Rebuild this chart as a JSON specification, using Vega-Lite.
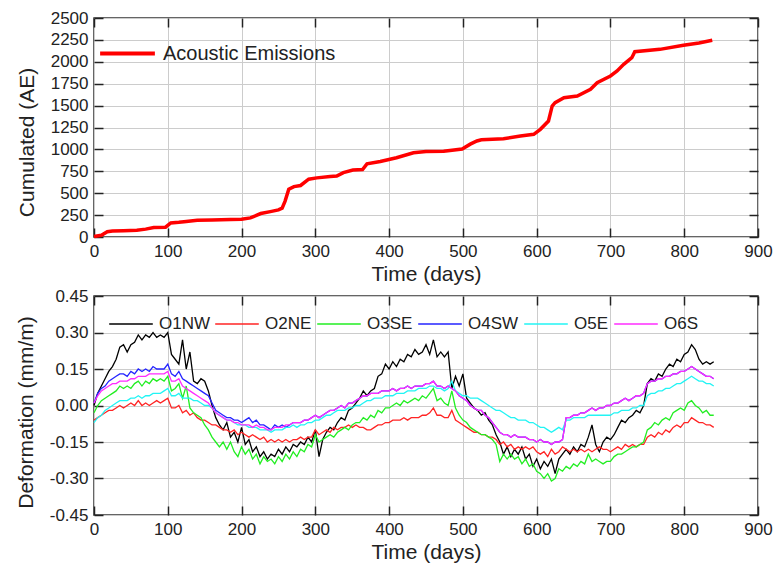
{
  "$schema": "https://vega.github.io/schema/vega-lite/v6.json",
  "padding": {"left": 14, "top": 8, "right": 14, "bottom": 4},
  "spacing": 1,
  "resolve": {"scale": {"color": "independent"}, "legend": {"color": "independent"}},
  "datasets": {
    "ae": [
      {"t": 0, "ae": 5}, {"t": 10, "ae": 20}, {"t": 18, "ae": 60}, {"t": 25, "ae": 68}, {"t": 40, "ae": 72},
      {"t": 58, "ae": 78}, {"t": 70, "ae": 90}, {"t": 81, "ae": 108}, {"t": 97, "ae": 112}, {"t": 104, "ae": 160},
      {"t": 115, "ae": 168}, {"t": 122, "ae": 175}, {"t": 140, "ae": 190}, {"t": 160, "ae": 195}, {"t": 185, "ae": 200},
      {"t": 200, "ae": 202}, {"t": 212, "ae": 218}, {"t": 226, "ae": 268}, {"t": 239, "ae": 290}, {"t": 250, "ae": 310},
      {"t": 255, "ae": 330}, {"t": 259, "ae": 410}, {"t": 264, "ae": 545}, {"t": 271, "ae": 575}, {"t": 280, "ae": 588},
      {"t": 291, "ae": 660}, {"t": 302, "ae": 675}, {"t": 320, "ae": 690}, {"t": 329, "ae": 695}, {"t": 338, "ae": 735},
      {"t": 351, "ae": 765}, {"t": 364, "ae": 770}, {"t": 370, "ae": 835}, {"t": 388, "ae": 862}, {"t": 410, "ae": 905},
      {"t": 433, "ae": 962}, {"t": 450, "ae": 975}, {"t": 474, "ae": 980}, {"t": 499, "ae": 1005}, {"t": 510, "ae": 1060},
      {"t": 519, "ae": 1096}, {"t": 525, "ae": 1110}, {"t": 555, "ae": 1122}, {"t": 578, "ae": 1153}, {"t": 596, "ae": 1172},
      {"t": 605, "ae": 1229}, {"t": 616, "ae": 1324}, {"t": 621, "ae": 1495}, {"t": 625, "ae": 1533}, {"t": 637, "ae": 1590},
      {"t": 655, "ae": 1610}, {"t": 673, "ae": 1686}, {"t": 682, "ae": 1761}, {"t": 700, "ae": 1838}, {"t": 709, "ae": 1895},
      {"t": 718, "ae": 1971}, {"t": 729, "ae": 2047}, {"t": 733, "ae": 2115}, {"t": 767, "ae": 2142}, {"t": 799, "ae": 2188},
      {"t": 820, "ae": 2215}, {"t": 838, "ae": 2245}
    ],
    "def": [
      {"t": 0, "O1NW": 0.00, "O2NE": -0.06, "O3SE": -0.03, "O4SW": 0.01, "O5E": -0.07, "O6S": 0.01},
      {"t": 5, "O1NW": 0.05, "O2NE": -0.05, "O3SE": 0.00, "O4SW": 0.05, "O5E": -0.05, "O6S": 0.04},
      {"t": 10, "O1NW": 0.08, "O2NE": -0.04, "O3SE": 0.02, "O4SW": 0.07, "O5E": -0.04, "O6S": 0.06},
      {"t": 15, "O1NW": 0.11, "O2NE": -0.03, "O3SE": 0.03, "O4SW": 0.08, "O5E": -0.02, "O6S": 0.07},
      {"t": 20, "O1NW": 0.14, "O2NE": -0.02, "O3SE": 0.04, "O4SW": 0.10, "O5E": -0.01, "O6S": 0.08},
      {"t": 25, "O1NW": 0.16, "O2NE": -0.02, "O3SE": 0.05, "O4SW": 0.11, "O5E": 0.00, "O6S": 0.09},
      {"t": 30, "O1NW": 0.19, "O2NE": -0.01, "O3SE": 0.06, "O4SW": 0.12, "O5E": 0.01, "O6S": 0.09},
      {"t": 35, "O1NW": 0.24, "O2NE": 0.00, "O3SE": 0.08, "O4SW": 0.13, "O5E": 0.02, "O6S": 0.10},
      {"t": 40, "O1NW": 0.25, "O2NE": -0.01, "O3SE": 0.07, "O4SW": 0.13, "O5E": 0.02, "O6S": 0.10},
      {"t": 45, "O1NW": 0.22, "O2NE": 0.00, "O3SE": 0.08, "O4SW": 0.12, "O5E": 0.02, "O6S": 0.10},
      {"t": 50, "O1NW": 0.25, "O2NE": 0.01, "O3SE": 0.07, "O4SW": 0.14, "O5E": 0.03, "O6S": 0.11},
      {"t": 55, "O1NW": 0.26, "O2NE": 0.00, "O3SE": 0.09, "O4SW": 0.13, "O5E": 0.03, "O6S": 0.11},
      {"t": 60, "O1NW": 0.29, "O2NE": 0.02, "O3SE": 0.10, "O4SW": 0.15, "O5E": 0.04, "O6S": 0.12},
      {"t": 65, "O1NW": 0.27, "O2NE": 0.00, "O3SE": 0.08, "O4SW": 0.14, "O5E": 0.03, "O6S": 0.12},
      {"t": 70, "O1NW": 0.29, "O2NE": 0.01, "O3SE": 0.10, "O4SW": 0.15, "O5E": 0.04, "O6S": 0.12},
      {"t": 75, "O1NW": 0.28, "O2NE": 0.00, "O3SE": 0.09, "O4SW": 0.14, "O5E": 0.04, "O6S": 0.13},
      {"t": 80, "O1NW": 0.30, "O2NE": 0.01, "O3SE": 0.11, "O4SW": 0.16, "O5E": 0.05, "O6S": 0.13},
      {"t": 85, "O1NW": 0.28, "O2NE": 0.02, "O3SE": 0.10, "O4SW": 0.15, "O5E": 0.05, "O6S": 0.13},
      {"t": 90, "O1NW": 0.29, "O2NE": 0.01, "O3SE": 0.11, "O4SW": 0.15, "O5E": 0.05, "O6S": 0.13},
      {"t": 95, "O1NW": 0.28, "O2NE": 0.02, "O3SE": 0.10, "O4SW": 0.15, "O5E": 0.06, "O6S": 0.13},
      {"t": 100, "O1NW": 0.30, "O2NE": 0.03, "O3SE": 0.12, "O4SW": 0.17, "O5E": 0.07, "O6S": 0.14},
      {"t": 105, "O1NW": 0.21, "O2NE": -0.01, "O3SE": 0.06, "O4SW": 0.13, "O5E": 0.04, "O6S": 0.10},
      {"t": 110, "O1NW": 0.19, "O2NE": -0.01, "O3SE": 0.07, "O4SW": 0.12, "O5E": 0.04, "O6S": 0.10},
      {"t": 115, "O1NW": 0.17, "O2NE": 0.00, "O3SE": 0.09, "O4SW": 0.14, "O5E": 0.05, "O6S": 0.11},
      {"t": 120, "O1NW": 0.27, "O2NE": -0.03, "O3SE": 0.03, "O4SW": 0.11, "O5E": 0.03, "O6S": 0.08},
      {"t": 125, "O1NW": 0.15, "O2NE": -0.02, "O3SE": 0.08, "O4SW": 0.10, "O5E": 0.03, "O6S": 0.07},
      {"t": 130, "O1NW": 0.22, "O2NE": -0.04, "O3SE": -0.01, "O4SW": 0.09, "O5E": 0.03, "O6S": 0.06},
      {"t": 135, "O1NW": 0.10, "O2NE": -0.03, "O3SE": -0.03, "O4SW": 0.08, "O5E": 0.02, "O6S": 0.05},
      {"t": 140, "O1NW": 0.09, "O2NE": -0.05, "O3SE": -0.04, "O4SW": 0.07, "O5E": 0.02, "O6S": 0.04},
      {"t": 145, "O1NW": 0.11, "O2NE": -0.06, "O3SE": -0.05, "O4SW": 0.06, "O5E": 0.01, "O6S": 0.03},
      {"t": 150, "O1NW": 0.10, "O2NE": -0.06, "O3SE": -0.08, "O4SW": 0.05, "O5E": 0.00, "O6S": 0.02},
      {"t": 155, "O1NW": 0.06, "O2NE": -0.07, "O3SE": -0.10, "O4SW": 0.04, "O5E": 0.00, "O6S": 0.01},
      {"t": 160, "O1NW": 0.00, "O2NE": -0.08, "O3SE": -0.13, "O4SW": 0.01, "O5E": -0.01, "O6S": -0.01},
      {"t": 165, "O1NW": -0.05, "O2NE": -0.08, "O3SE": -0.15, "O4SW": -0.02, "O5E": -0.03, "O6S": -0.03},
      {"t": 170, "O1NW": -0.08, "O2NE": -0.09, "O3SE": -0.17, "O4SW": -0.03, "O5E": -0.04, "O6S": -0.04},
      {"t": 175, "O1NW": -0.10, "O2NE": -0.10, "O3SE": -0.15, "O4SW": -0.04, "O5E": -0.05, "O6S": -0.05},
      {"t": 180, "O1NW": -0.07, "O2NE": -0.10, "O3SE": -0.18, "O4SW": -0.05, "O5E": -0.06, "O6S": -0.06},
      {"t": 185, "O1NW": -0.13, "O2NE": -0.11, "O3SE": -0.15, "O4SW": -0.05, "O5E": -0.06, "O6S": -0.06},
      {"t": 190, "O1NW": -0.11, "O2NE": -0.10, "O3SE": -0.19, "O4SW": -0.06, "O5E": -0.07, "O6S": -0.07},
      {"t": 195, "O1NW": -0.15, "O2NE": -0.12, "O3SE": -0.21, "O4SW": -0.06, "O5E": -0.08, "O6S": -0.07},
      {"t": 200, "O1NW": -0.09, "O2NE": -0.11, "O3SE": -0.17, "O4SW": -0.07, "O5E": -0.08, "O6S": -0.08},
      {"t": 205, "O1NW": -0.16, "O2NE": -0.12, "O3SE": -0.20, "O4SW": -0.06, "O5E": -0.08, "O6S": -0.08},
      {"t": 210, "O1NW": -0.14, "O2NE": -0.13, "O3SE": -0.18, "O4SW": -0.05, "O5E": -0.09, "O6S": -0.08},
      {"t": 215, "O1NW": -0.19, "O2NE": -0.12, "O3SE": -0.22, "O4SW": -0.07, "O5E": -0.09, "O6S": -0.09},
      {"t": 220, "O1NW": -0.17, "O2NE": -0.13, "O3SE": -0.20, "O4SW": -0.06, "O5E": -0.09, "O6S": -0.08},
      {"t": 225, "O1NW": -0.21, "O2NE": -0.14, "O3SE": -0.24, "O4SW": -0.08, "O5E": -0.10, "O6S": -0.09},
      {"t": 230, "O1NW": -0.19, "O2NE": -0.13, "O3SE": -0.21, "O4SW": -0.08, "O5E": -0.10, "O6S": -0.09},
      {"t": 235, "O1NW": -0.22, "O2NE": -0.15, "O3SE": -0.23, "O4SW": -0.09, "O5E": -0.10, "O6S": -0.10},
      {"t": 240, "O1NW": -0.20, "O2NE": -0.14, "O3SE": -0.22, "O4SW": -0.10, "O5E": -0.11, "O6S": -0.10},
      {"t": 245, "O1NW": -0.21, "O2NE": -0.15, "O3SE": -0.24, "O4SW": -0.08, "O5E": -0.10, "O6S": -0.09},
      {"t": 250, "O1NW": -0.18, "O2NE": -0.14, "O3SE": -0.21, "O4SW": -0.09, "O5E": -0.10, "O6S": -0.09},
      {"t": 255, "O1NW": -0.20, "O2NE": -0.15, "O3SE": -0.23, "O4SW": -0.08, "O5E": -0.10, "O6S": -0.09},
      {"t": 260, "O1NW": -0.17, "O2NE": -0.14, "O3SE": -0.20, "O4SW": -0.09, "O5E": -0.09, "O6S": -0.08},
      {"t": 265, "O1NW": -0.19, "O2NE": -0.15, "O3SE": -0.22, "O4SW": -0.08, "O5E": -0.09, "O6S": -0.08},
      {"t": 270, "O1NW": -0.16, "O2NE": -0.14, "O3SE": -0.19, "O4SW": -0.07, "O5E": -0.08, "O6S": -0.07},
      {"t": 275, "O1NW": -0.17, "O2NE": -0.14, "O3SE": -0.21, "O4SW": -0.07, "O5E": -0.09, "O6S": -0.07},
      {"t": 280, "O1NW": -0.15, "O2NE": -0.13, "O3SE": -0.18, "O4SW": -0.07, "O5E": -0.08, "O6S": -0.07},
      {"t": 285, "O1NW": -0.16, "O2NE": -0.14, "O3SE": -0.19, "O4SW": -0.06, "O5E": -0.08, "O6S": -0.06},
      {"t": 290, "O1NW": -0.13, "O2NE": -0.13, "O3SE": -0.16, "O4SW": -0.06, "O5E": -0.07, "O6S": -0.06},
      {"t": 295, "O1NW": -0.15, "O2NE": -0.13, "O3SE": -0.17, "O4SW": -0.05, "O5E": -0.07, "O6S": -0.05},
      {"t": 300, "O1NW": -0.10, "O2NE": -0.10, "O3SE": -0.12, "O4SW": -0.04, "O5E": -0.06, "O6S": -0.04},
      {"t": 305, "O1NW": -0.21, "O2NE": -0.12, "O3SE": -0.15, "O4SW": -0.05, "O5E": -0.06, "O6S": -0.05},
      {"t": 310, "O1NW": -0.14, "O2NE": -0.11, "O3SE": -0.14, "O4SW": -0.04, "O5E": -0.05, "O6S": -0.04},
      {"t": 315, "O1NW": -0.11, "O2NE": -0.10, "O3SE": -0.13, "O4SW": -0.03, "O5E": -0.04, "O6S": -0.03},
      {"t": 320, "O1NW": -0.09, "O2NE": -0.11, "O3SE": -0.12, "O4SW": -0.02, "O5E": -0.04, "O6S": -0.02},
      {"t": 325, "O1NW": -0.10, "O2NE": -0.09, "O3SE": -0.13, "O4SW": -0.02, "O5E": -0.03, "O6S": -0.02},
      {"t": 330, "O1NW": -0.07, "O2NE": -0.10, "O3SE": -0.11, "O4SW": -0.01, "O5E": -0.02, "O6S": -0.01},
      {"t": 335, "O1NW": -0.05, "O2NE": -0.09, "O3SE": -0.10, "O4SW": 0.00, "O5E": -0.02, "O6S": 0.00},
      {"t": 340, "O1NW": -0.06, "O2NE": -0.09, "O3SE": -0.09, "O4SW": -0.01, "O5E": -0.02, "O6S": -0.01},
      {"t": 345, "O1NW": -0.02, "O2NE": -0.08, "O3SE": -0.10, "O4SW": 0.01, "O5E": -0.01, "O6S": 0.01},
      {"t": 350, "O1NW": -0.01, "O2NE": -0.09, "O3SE": -0.08, "O4SW": 0.01, "O5E": -0.01, "O6S": 0.01},
      {"t": 355, "O1NW": 0.01, "O2NE": -0.08, "O3SE": -0.07, "O4SW": 0.02, "O5E": 0.00, "O6S": 0.02},
      {"t": 360, "O1NW": 0.03, "O2NE": -0.09, "O3SE": -0.07, "O4SW": 0.03, "O5E": 0.00, "O6S": 0.03},
      {"t": 365, "O1NW": 0.06, "O2NE": -0.09, "O3SE": -0.05, "O4SW": 0.04, "O5E": 0.01, "O6S": 0.04},
      {"t": 370, "O1NW": 0.04, "O2NE": -0.10, "O3SE": -0.06, "O4SW": 0.04, "O5E": 0.02, "O6S": 0.04},
      {"t": 375, "O1NW": 0.06, "O2NE": -0.10, "O3SE": -0.04, "O4SW": 0.05, "O5E": 0.02, "O6S": 0.05},
      {"t": 380, "O1NW": 0.07, "O2NE": -0.09, "O3SE": -0.05, "O4SW": 0.05, "O5E": 0.03, "O6S": 0.05},
      {"t": 385, "O1NW": 0.12, "O2NE": -0.08, "O3SE": -0.02, "O4SW": 0.05, "O5E": 0.03, "O6S": 0.05},
      {"t": 390, "O1NW": 0.13, "O2NE": -0.08, "O3SE": -0.03, "O4SW": 0.06, "O5E": 0.03, "O6S": 0.06},
      {"t": 395, "O1NW": 0.17, "O2NE": -0.07, "O3SE": -0.01, "O4SW": 0.06, "O5E": 0.04, "O6S": 0.06},
      {"t": 400, "O1NW": 0.15, "O2NE": -0.07, "O3SE": -0.01, "O4SW": 0.06, "O5E": 0.04, "O6S": 0.06},
      {"t": 405, "O1NW": 0.18, "O2NE": -0.06, "O3SE": 0.00, "O4SW": 0.07, "O5E": 0.04, "O6S": 0.07},
      {"t": 410, "O1NW": 0.16, "O2NE": -0.06, "O3SE": 0.01, "O4SW": 0.06, "O5E": 0.05, "O6S": 0.06},
      {"t": 415, "O1NW": 0.19, "O2NE": -0.06, "O3SE": 0.00, "O4SW": 0.07, "O5E": 0.05, "O6S": 0.07},
      {"t": 420, "O1NW": 0.18, "O2NE": -0.05, "O3SE": 0.02, "O4SW": 0.07, "O5E": 0.05, "O6S": 0.07},
      {"t": 425, "O1NW": 0.21, "O2NE": -0.06, "O3SE": 0.01, "O4SW": 0.08, "O5E": 0.06, "O6S": 0.08},
      {"t": 430, "O1NW": 0.20, "O2NE": -0.05, "O3SE": 0.02, "O4SW": 0.07, "O5E": 0.06, "O6S": 0.07},
      {"t": 435, "O1NW": 0.23, "O2NE": -0.05, "O3SE": 0.03, "O4SW": 0.08, "O5E": 0.06, "O6S": 0.08},
      {"t": 440, "O1NW": 0.21, "O2NE": -0.05, "O3SE": 0.02, "O4SW": 0.08, "O5E": 0.07, "O6S": 0.08},
      {"t": 445, "O1NW": 0.22, "O2NE": -0.04, "O3SE": 0.04, "O4SW": 0.08, "O5E": 0.07, "O6S": 0.08},
      {"t": 450, "O1NW": 0.25, "O2NE": -0.04, "O3SE": 0.03, "O4SW": 0.09, "O5E": 0.07, "O6S": 0.09},
      {"t": 455, "O1NW": 0.21, "O2NE": -0.03, "O3SE": 0.05, "O4SW": 0.09, "O5E": 0.08, "O6S": 0.09},
      {"t": 460, "O1NW": 0.27, "O2NE": -0.01, "O3SE": 0.07, "O4SW": 0.10, "O5E": 0.08, "O6S": 0.10},
      {"t": 465, "O1NW": 0.20, "O2NE": -0.04, "O3SE": 0.02, "O4SW": 0.08, "O5E": 0.07, "O6S": 0.08},
      {"t": 470, "O1NW": 0.22, "O2NE": -0.04, "O3SE": 0.03, "O4SW": 0.08, "O5E": 0.07, "O6S": 0.08},
      {"t": 475, "O1NW": 0.20, "O2NE": -0.05, "O3SE": 0.01, "O4SW": 0.07, "O5E": 0.06, "O6S": 0.07},
      {"t": 480, "O1NW": 0.22, "O2NE": -0.05, "O3SE": 0.00, "O4SW": 0.08, "O5E": 0.07, "O6S": 0.08},
      {"t": 485, "O1NW": 0.07, "O2NE": -0.02, "O3SE": 0.06, "O4SW": 0.07, "O5E": 0.10, "O6S": 0.07},
      {"t": 490, "O1NW": 0.12, "O2NE": -0.06, "O3SE": -0.01, "O4SW": 0.06, "O5E": 0.06, "O6S": 0.06},
      {"t": 495, "O1NW": 0.08, "O2NE": -0.07, "O3SE": -0.04, "O4SW": 0.04, "O5E": 0.05, "O6S": 0.04},
      {"t": 500, "O1NW": 0.13, "O2NE": -0.08, "O3SE": -0.06, "O4SW": 0.03, "O5E": 0.04, "O6S": 0.03},
      {"t": 505, "O1NW": 0.03, "O2NE": -0.09, "O3SE": -0.07, "O4SW": 0.02, "O5E": 0.04, "O6S": 0.02},
      {"t": 510, "O1NW": 0.01, "O2NE": -0.10, "O3SE": -0.09, "O4SW": 0.00, "O5E": 0.03, "O6S": 0.00},
      {"t": 515, "O1NW": -0.01, "O2NE": -0.11, "O3SE": -0.10, "O4SW": -0.01, "O5E": 0.03, "O6S": -0.01},
      {"t": 520, "O1NW": -0.02, "O2NE": -0.11, "O3SE": -0.11, "O4SW": -0.02, "O5E": 0.03, "O6S": -0.02},
      {"t": 525, "O1NW": -0.04, "O2NE": -0.12, "O3SE": -0.12, "O4SW": -0.02, "O5E": 0.02, "O6S": -0.02},
      {"t": 530, "O1NW": -0.03, "O2NE": -0.12, "O3SE": -0.12, "O4SW": -0.04, "O5E": 0.01, "O6S": -0.04},
      {"t": 535, "O1NW": -0.06, "O2NE": -0.13, "O3SE": -0.13, "O4SW": -0.05, "O5E": 0.00, "O6S": -0.05},
      {"t": 540, "O1NW": -0.08, "O2NE": -0.13, "O3SE": -0.14, "O4SW": -0.07, "O5E": -0.01, "O6S": -0.07},
      {"t": 545, "O1NW": -0.12, "O2NE": -0.14, "O3SE": -0.16, "O4SW": -0.09, "O5E": -0.02, "O6S": -0.09},
      {"t": 550, "O1NW": -0.15, "O2NE": -0.16, "O3SE": -0.23, "O4SW": -0.11, "O5E": -0.02, "O6S": -0.11},
      {"t": 555, "O1NW": -0.20, "O2NE": -0.15, "O3SE": -0.20, "O4SW": -0.12, "O5E": -0.03, "O6S": -0.12},
      {"t": 560, "O1NW": -0.17, "O2NE": -0.17, "O3SE": -0.22, "O4SW": -0.12, "O5E": -0.04, "O6S": -0.12},
      {"t": 565, "O1NW": -0.21, "O2NE": -0.16, "O3SE": -0.20, "O4SW": -0.13, "O5E": -0.05, "O6S": -0.13},
      {"t": 570, "O1NW": -0.18, "O2NE": -0.18, "O3SE": -0.22, "O4SW": -0.12, "O5E": -0.05, "O6S": -0.12},
      {"t": 575, "O1NW": -0.20, "O2NE": -0.17, "O3SE": -0.21, "O4SW": -0.13, "O5E": -0.06, "O6S": -0.13},
      {"t": 580, "O1NW": -0.17, "O2NE": -0.18, "O3SE": -0.24, "O4SW": -0.13, "O5E": -0.06, "O6S": -0.13},
      {"t": 585, "O1NW": -0.22, "O2NE": -0.17, "O3SE": -0.22, "O4SW": -0.13, "O5E": -0.06, "O6S": -0.13},
      {"t": 590, "O1NW": -0.20, "O2NE": -0.18, "O3SE": -0.25, "O4SW": -0.14, "O5E": -0.07, "O6S": -0.14},
      {"t": 595, "O1NW": -0.25, "O2NE": -0.17, "O3SE": -0.24, "O4SW": -0.14, "O5E": -0.07, "O6S": -0.14},
      {"t": 600, "O1NW": -0.22, "O2NE": -0.19, "O3SE": -0.27, "O4SW": -0.15, "O5E": -0.08, "O6S": -0.15},
      {"t": 605, "O1NW": -0.26, "O2NE": -0.20, "O3SE": -0.28, "O4SW": -0.14, "O5E": -0.09, "O6S": -0.14},
      {"t": 610, "O1NW": -0.23, "O2NE": -0.19, "O3SE": -0.30, "O4SW": -0.15, "O5E": -0.09, "O6S": -0.15},
      {"t": 615, "O1NW": -0.25, "O2NE": -0.21, "O3SE": -0.28, "O4SW": -0.15, "O5E": -0.10, "O6S": -0.15},
      {"t": 620, "O1NW": -0.22, "O2NE": -0.18, "O3SE": -0.31, "O4SW": -0.16, "O5E": -0.11, "O6S": -0.16},
      {"t": 625, "O1NW": -0.28, "O2NE": -0.20, "O3SE": -0.30, "O4SW": -0.15, "O5E": -0.10, "O6S": -0.15},
      {"t": 630, "O1NW": -0.22, "O2NE": -0.19, "O3SE": -0.26, "O4SW": -0.15, "O5E": -0.09, "O6S": -0.15},
      {"t": 635, "O1NW": -0.20, "O2NE": -0.17, "O3SE": -0.27, "O4SW": -0.14, "O5E": -0.10, "O6S": -0.14},
      {"t": 640, "O1NW": -0.18, "O2NE": -0.18, "O3SE": -0.25, "O4SW": -0.05, "O5E": -0.06, "O6S": -0.05},
      {"t": 645, "O1NW": -0.20, "O2NE": -0.19, "O3SE": -0.26, "O4SW": -0.05, "O5E": -0.06, "O6S": -0.05},
      {"t": 650, "O1NW": -0.17, "O2NE": -0.18, "O3SE": -0.24, "O4SW": -0.04, "O5E": -0.05, "O6S": -0.04},
      {"t": 655, "O1NW": -0.19, "O2NE": -0.19, "O3SE": -0.25, "O4SW": -0.04, "O5E": -0.05, "O6S": -0.04},
      {"t": 660, "O1NW": -0.16, "O2NE": -0.18, "O3SE": -0.23, "O4SW": -0.03, "O5E": -0.05, "O6S": -0.03},
      {"t": 665, "O1NW": -0.17, "O2NE": -0.19, "O3SE": -0.24, "O4SW": -0.03, "O5E": -0.05, "O6S": -0.03},
      {"t": 670, "O1NW": -0.13, "O2NE": -0.18, "O3SE": -0.20, "O4SW": -0.02, "O5E": -0.04, "O6S": -0.02},
      {"t": 675, "O1NW": -0.08, "O2NE": -0.19, "O3SE": -0.23, "O4SW": -0.01, "O5E": -0.04, "O6S": -0.01},
      {"t": 680, "O1NW": -0.16, "O2NE": -0.18, "O3SE": -0.22, "O4SW": -0.02, "O5E": -0.04, "O6S": -0.02},
      {"t": 685, "O1NW": -0.19, "O2NE": -0.17, "O3SE": -0.23, "O4SW": -0.01, "O5E": -0.04, "O6S": -0.01},
      {"t": 690, "O1NW": -0.15, "O2NE": -0.18, "O3SE": -0.24, "O4SW": -0.01, "O5E": -0.04, "O6S": -0.01},
      {"t": 695, "O1NW": -0.13, "O2NE": -0.18, "O3SE": -0.23, "O4SW": 0.00, "O5E": -0.04, "O6S": 0.00},
      {"t": 700, "O1NW": -0.14, "O2NE": -0.19, "O3SE": -0.23, "O4SW": 0.00, "O5E": -0.04, "O6S": 0.00},
      {"t": 705, "O1NW": -0.12, "O2NE": -0.18, "O3SE": -0.21, "O4SW": 0.01, "O5E": -0.03, "O6S": 0.01},
      {"t": 710, "O1NW": -0.09, "O2NE": -0.17, "O3SE": -0.20, "O4SW": 0.01, "O5E": -0.03, "O6S": 0.01},
      {"t": 715, "O1NW": -0.06, "O2NE": -0.18, "O3SE": -0.20, "O4SW": 0.02, "O5E": -0.02, "O6S": 0.02},
      {"t": 720, "O1NW": -0.07, "O2NE": -0.16, "O3SE": -0.19, "O4SW": 0.03, "O5E": -0.02, "O6S": 0.03},
      {"t": 725, "O1NW": -0.05, "O2NE": -0.17, "O3SE": -0.18, "O4SW": 0.02, "O5E": -0.02, "O6S": 0.02},
      {"t": 730, "O1NW": -0.04, "O2NE": -0.16, "O3SE": -0.17, "O4SW": 0.03, "O5E": -0.01, "O6S": 0.03},
      {"t": 735, "O1NW": -0.02, "O2NE": -0.17, "O3SE": -0.17, "O4SW": 0.04, "O5E": -0.01, "O6S": 0.04},
      {"t": 740, "O1NW": -0.03, "O2NE": -0.16, "O3SE": -0.16, "O4SW": 0.04, "O5E": 0.00, "O6S": 0.04},
      {"t": 745, "O1NW": 0.00, "O2NE": -0.16, "O3SE": -0.15, "O4SW": 0.05, "O5E": 0.00, "O6S": 0.05},
      {"t": 750, "O1NW": 0.09, "O2NE": -0.13, "O3SE": -0.10, "O4SW": 0.09, "O5E": 0.04, "O6S": 0.09},
      {"t": 755, "O1NW": 0.11, "O2NE": -0.12, "O3SE": -0.09, "O4SW": 0.10, "O5E": 0.05, "O6S": 0.10},
      {"t": 760, "O1NW": 0.10, "O2NE": -0.13, "O3SE": -0.07, "O4SW": 0.10, "O5E": 0.05, "O6S": 0.10},
      {"t": 765, "O1NW": 0.13, "O2NE": -0.11, "O3SE": -0.08, "O4SW": 0.11, "O5E": 0.06, "O6S": 0.11},
      {"t": 770, "O1NW": 0.12, "O2NE": -0.12, "O3SE": -0.06, "O4SW": 0.11, "O5E": 0.06, "O6S": 0.11},
      {"t": 775, "O1NW": 0.15, "O2NE": -0.10, "O3SE": -0.05, "O4SW": 0.12, "O5E": 0.07, "O6S": 0.12},
      {"t": 780, "O1NW": 0.17, "O2NE": -0.11, "O3SE": -0.06, "O4SW": 0.12, "O5E": 0.07, "O6S": 0.12},
      {"t": 785, "O1NW": 0.16, "O2NE": -0.09, "O3SE": -0.03, "O4SW": 0.13, "O5E": 0.08, "O6S": 0.13},
      {"t": 790, "O1NW": 0.19, "O2NE": -0.08, "O3SE": -0.02, "O4SW": 0.13, "O5E": 0.09, "O6S": 0.13},
      {"t": 795, "O1NW": 0.18, "O2NE": -0.09, "O3SE": -0.01, "O4SW": 0.14, "O5E": 0.09, "O6S": 0.14},
      {"t": 800, "O1NW": 0.21, "O2NE": -0.07, "O3SE": -0.02, "O4SW": 0.14, "O5E": 0.10, "O6S": 0.14},
      {"t": 805, "O1NW": 0.22, "O2NE": -0.07, "O3SE": 0.01, "O4SW": 0.15, "O5E": 0.11, "O6S": 0.15},
      {"t": 810, "O1NW": 0.25, "O2NE": -0.05, "O3SE": 0.02, "O4SW": 0.16, "O5E": 0.12, "O6S": 0.16},
      {"t": 815, "O1NW": 0.23, "O2NE": -0.06, "O3SE": 0.00, "O4SW": 0.15, "O5E": 0.11, "O6S": 0.15},
      {"t": 820, "O1NW": 0.19, "O2NE": -0.07, "O3SE": -0.01, "O4SW": 0.14, "O5E": 0.10, "O6S": 0.14},
      {"t": 825, "O1NW": 0.17, "O2NE": -0.07, "O3SE": -0.03, "O4SW": 0.13, "O5E": 0.10, "O6S": 0.13},
      {"t": 830, "O1NW": 0.18, "O2NE": -0.08, "O3SE": -0.02, "O4SW": 0.12, "O5E": 0.09, "O6S": 0.12},
      {"t": 835, "O1NW": 0.17, "O2NE": -0.08, "O3SE": -0.04, "O4SW": 0.12, "O5E": 0.09, "O6S": 0.12},
      {"t": 840, "O1NW": 0.18, "O2NE": -0.09, "O3SE": -0.04, "O4SW": 0.11, "O5E": 0.08, "O6S": 0.11}
    ]
  },
  "vconcat": [
    {
      "width": 664,
      "height": 219,
      "data": {"name": "ae"},
      "layer": [
        {
          "mark": {"type": "line", "strokeWidth": 3.5},
          "encoding": {
            "x": {"field": "t", "type": "quantitative", "scale": {"domain": [0, 900], "nice": false},
              "axis": {"title": "Time (days)", "values": [0, 100, 200, 300, 400, 500, 600, 700, 800, 900]}},
            "y": {"field": "ae", "type": "quantitative", "scale": {"domain": [0, 2500], "nice": false},
              "axis": {"title": "Cumulated (AE)", "titleY": 124, "format": "d", "values": [0, 250, 500, 750, 1000, 1250, 1500, 1750, 2000, 2250, 2500]}},
            "color": {"datum": "Acoustic Emissions", "scale": {"domain": ["Acoustic Emissions"], "range": ["#ff0000"]},
              "legend": {"orient": "none", "legendX": 4, "legendY": 6, "title": null, "symbolType": "stroke",
                "symbolSize": 3000, "symbolStrokeWidth": 4, "labelFontSize": 20, "labelOffset": 6, "labelLimit": 400}}
          }
        },
        {
          "mark": {"type": "line", "opacity": 0},
          "encoding": {
            "x": {"field": "t", "type": "quantitative",
              "axis": {"orient": "top", "labels": false, "grid": false, "title": null, "values": [0, 100, 200, 300, 400, 500, 600, 700, 800, 900]}},
            "y": {"field": "ae", "type": "quantitative",
              "axis": {"orient": "right", "labels": false, "grid": false, "title": null, "values": [0, 250, 500, 750, 1000, 1250, 1500, 1750, 2000, 2250, 2500]}}
          }
        }
      ],
      "resolve": {"axis": {"x": "independent", "y": "independent"}}
    },
    {
      "width": 664,
      "height": 219,
      "data": {"name": "def"},
      "layer": [
        {
          "mark": {"type": "line", "strokeWidth": 1.3},
          "encoding": {
            "x": {"field": "t", "type": "quantitative", "scale": {"domain": [0, 900], "nice": false},
              "axis": {"title": "Time (days)", "values": [0, 100, 200, 300, 400, 500, 600, 700, 800, 900]}},
            "y": {"field": "O1NW", "type": "quantitative", "scale": {"domain": [-0.45, 0.45], "nice": false},
              "axis": {"title": "Deformation (mm/m)", "titleY": 116, "values": [-0.45, -0.3, -0.15, 0, 0.15, 0.3, 0.45],
                "labelExpr": "datum.value < -0.001 ? '-' + format(-datum.value, '.2f') : format(abs(datum.value), '.2f')"}},
            "color": {"datum": "O1NW",
              "scale": {"domain": ["O1NW", "O2NE", "O3SE", "O4SW", "O5E", "O6S"], "range": ["#000000", "#ff2424", "#22ee22", "#2424ff", "#22f4f4", "#ff2cff"]},
              "legend": {"orient": "none", "legendX": 14, "legendY": 5, "direction": "horizontal", "title": null,
                "symbolType": "stroke", "symbolSize": 1900, "symbolStrokeWidth": 1.5, "labelFontSize": 17,
                "labelOffset": 5, "columnPadding": 2}}
          }
        },
        {
          "mark": {"type": "line", "strokeWidth": 1.3},
          "encoding": {
            "x": {"field": "t", "type": "quantitative", "axis": null},
            "y": {"field": "O2NE", "type": "quantitative", "axis": null},
            "color": {"datum": "O2NE"}
          }
        },
        {
          "mark": {"type": "line", "strokeWidth": 1.3},
          "encoding": {
            "x": {"field": "t", "type": "quantitative", "axis": null},
            "y": {"field": "O3SE", "type": "quantitative", "axis": null},
            "color": {"datum": "O3SE"}
          }
        },
        {
          "mark": {"type": "line", "strokeWidth": 1.3},
          "encoding": {
            "x": {"field": "t", "type": "quantitative", "axis": null},
            "y": {"field": "O4SW", "type": "quantitative", "axis": null},
            "color": {"datum": "O4SW"}
          }
        },
        {
          "mark": {"type": "line", "strokeWidth": 1.3},
          "encoding": {
            "x": {"field": "t", "type": "quantitative", "axis": null},
            "y": {"field": "O5E", "type": "quantitative", "axis": null},
            "color": {"datum": "O5E"}
          }
        },
        {
          "mark": {"type": "line", "strokeWidth": 1.3},
          "encoding": {
            "x": {"field": "t", "type": "quantitative", "axis": null},
            "y": {"field": "O6S", "type": "quantitative", "axis": null},
            "color": {"datum": "O6S"}
          }
        },
        {
          "mark": {"type": "line", "opacity": 0},
          "encoding": {
            "x": {"field": "t", "type": "quantitative",
              "axis": {"orient": "top", "labels": false, "grid": false, "title": null, "values": [0, 100, 200, 300, 400, 500, 600, 700, 800, 900]}},
            "y": {"field": "O1NW", "type": "quantitative",
              "axis": {"orient": "right", "labels": false, "grid": false, "title": null, "values": [-0.45, -0.3, -0.15, 0, 0.15, 0.3, 0.45]}}
          }
        }
      ],
      "resolve": {"axis": {"x": "independent", "y": "independent"}}
    }
  ],
  "config": {
    "font": "Liberation Sans",
    "view": {"stroke": "#333333", "strokeWidth": 1.5},
    "axis": {
      "labelFont": "Liberation Sans",
      "labelFontSize": 17,
      "labelColor": "#222222",
      "labelFlush": false,
      "titleFont": "Liberation Sans",
      "titleFontSize": 21,
      "titleFontWeight": "normal",
      "titleColor": "#222222",
      "gridColor": "#cccccc",
      "gridWidth": 1,
      "domain": false,
      "tickColor": "#222222",
      "tickWidth": 1.5,
      "tickSize": -9,
      "labelPadding": 15
    },
    "axisX": {"titlePadding": 4},
    "axisY": {"titlePadding": 13},
    "legend": {"labelFont": "Liberation Sans", "labelColor": "#222222"}
  }
}
